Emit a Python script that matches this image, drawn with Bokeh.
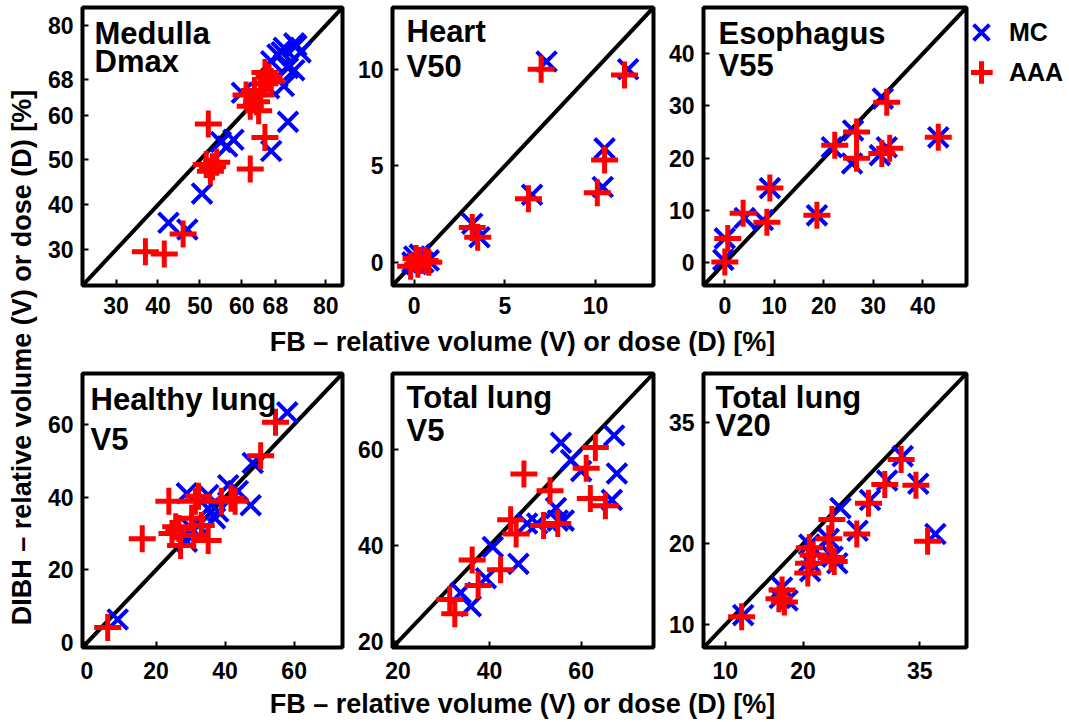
import math
from bokeh.plotting import figure
from bokeh.models import Range1d, FixedTicker, Label, Legend, LegendItem
from bokeh.layouts import row, column
from bokeh.embed import file_html
from bokeh.resources import INLINE

FONT = "Liberation Sans"

# ---------------- data ----------------
medulla_mc_x = [42.5, 47.0, 50.5, 55.0, 56.5, 58.0, 60.0, 67.0, 71.0, 66.5, 68.5, 70.0, 71.0, 72.5, 69.5, 67.0, 72.5, 74.0, 73.0, 68.5, 70.0]
medulla_mc_y = [36.0, 34.5, 42.5, 54.0, 53.0, 54.5, 65.0, 52.0, 58.5, 66.0, 68.5, 66.5, 70.5, 70.0, 74.0, 72.0, 76.0, 74.0, 75.5, 73.5, 75.0]
medulla_aaa_x = [37.0, 41.5, 46.0, 52.0, 51.5, 53.0, 52.5, 54.0, 62.0, 65.5, 61.0, 62.0, 63.5, 64.5, 65.5, 66.5, 63.0, 64.0, 67.0, 65.5]
medulla_aaa_y = [29.5, 29.0, 33.5, 58.0, 49.0, 48.5, 47.5, 49.5, 48.0, 55.0, 64.5, 62.0, 63.0, 64.5, 67.0, 68.5, 65.5, 61.0, 67.5, 69.5]

heart_mc_x = [7.3, 11.8, 10.5, 10.4, 6.5, 3.2, 3.6, 0.0, 0.8, -0.1, 0.3, 0.1, 0.5]
heart_mc_y = [10.4, 10.0, 5.9, 3.9, 3.5, 2.0, 1.3, 0.3, 0.1, 0.0, 0.4, -0.1, 0.0]
heart_aaa_x = [7.0, 11.6, 10.5, 10.1, 6.3, 3.2, 3.5, 0.1, 0.8, -0.2, 0.3, 0.2, 0.6]
heart_aaa_y = [10.0, 9.7, 5.3, 3.6, 3.3, 1.8, 1.3, 0.2, 0.0, -0.2, 0.1, -0.1, 0.1]

eso_mc_x = [31.9, 43.1, 21.6, 25.9, 25.7, 31.3, 32.7, 9.1, 18.6, 4.0, 7.7, 0.0, -0.3]
eso_mc_y = [31.4, 24.0, 22.1, 25.3, 19.0, 20.6, 22.1, 14.3, 9.1, 8.6, 8.2, 4.7, 0.6]
eso_aaa_x = [32.7, 43.1, 22.2, 26.6, 26.6, 31.7, 33.3, 9.1, 18.6, 3.7, 8.5, 0.6, 0.0]
eso_aaa_y = [30.7, 24.0, 22.5, 25.0, 20.0, 20.9, 21.9, 14.3, 9.1, 9.5, 7.8, 4.7, 0.2]

hlung_mc_x = [58.0, 48.0, 8.9, 28.9, 35.1, 40.9, 47.4, 37.1, 35.1, 43.7, 30.3, 32.3, 38.0, 28.9]
hlung_mc_y = [63.3, 49.4, 6.4, 41.1, 40.6, 43.3, 37.8, 34.2, 36.9, 41.7, 31.4, 32.2, 36.1, 27.8]
hlung_aaa_x = [54.6, 50.3, 6.0, 23.7, 16.0, 24.6, 27.1, 31.4, 32.3, 35.1, 41.7, 42.9, 30.3, 25.7, 33.1, 26.6, 30.9, 38.9]
hlung_aaa_y = [60.6, 51.4, 4.2, 38.9, 28.6, 30.0, 26.7, 38.9, 40.3, 28.1, 39.7, 38.9, 34.2, 31.9, 32.2, 31.4, 29.5, 38.9]

tl5_mc_x = [55.6, 67.2, 67.8, 66.7, 57.8, 60.0, 54.5, 56.2, 50.4, 48.2, 46.3, 40.7, 39.2, 33.7, 35.9, 54.9]
tl5_mc_y = [61.4, 62.9, 55.0, 49.5, 57.8, 55.5, 47.8, 45.2, 44.6, 44.6, 36.2, 39.7, 33.2, 30.2, 27.4, 45.2]
tl5_aaa_x = [63.1, 61.1, 47.5, 53.2, 62.0, 65.3, 44.6, 51.8, 54.9, 45.8, 36.2, 42.4, 37.5, 31.3, 32.4]
tl5_aaa_y = [60.4, 56.1, 54.9, 51.4, 49.8, 48.3, 45.4, 44.2, 44.6, 42.4, 37.0, 35.0, 31.7, 28.8, 25.8]

tl20_mc_x = [32.8, 30.8, 34.8, 28.6, 27.0, 37.0, 24.8, 23.3, 20.8, 20.8, 23.8, 24.4, 20.9, 17.3, 17.0, 18.0, 12.3, 21.5]
tl20_mc_y = [30.8, 27.8, 27.4, 25.4, 21.6, 21.2, 24.4, 20.6, 19.9, 17.8, 18.4, 17.6, 16.6, 14.6, 13.3, 13.0, 11.2, 19.0]
tl20_aaa_x = [32.6, 30.5, 34.5, 28.4, 26.9, 36.0, 23.7, 23.3, 20.8, 20.7, 23.6, 24.0, 20.6, 17.3, 16.9, 17.6, 12.1, 21.3]
tl20_aaa_y = [30.4, 27.3, 27.2, 25.0, 21.2, 20.3, 23.0, 20.6, 19.5, 17.6, 18.3, 17.8, 16.4, 14.3, 13.2, 12.8, 11.0, 18.6]

panel_titles = [["Medulla", "Dmax"], ["Heart", "V50"], ["Esophagus", "V55"],
                ["Healthy lung", "V5"], ["Total lung", "V5"], ["Total lung", "V20"]]
panel_ranges = [(22, 84), (-1.2, 13.2), (-4.3, 48.8), (-1.3, 74), (18.8, 75.8), (7.2, 41)]
panel_ticks = [[30, 40, 50, 60, 68, 80], [0, 5, 10], [0, 10, 20, 30, 40],
               [0, 20, 40, 60], [20, 40, 60], [10, 20, 35]]
series_labels = ["MC", "AAA"]
axis_x_label = "FB \u2013 relative volume (V) or dose (D) [%]"
axis_y_label = "DIBH \u2013 relative volume (V) or dose (D) [%]"

# ---------------- styling / layout ----------------
TOP_BT, TOP_FRAME, TOP_BB = 7, 278, 41
BOT_BT, BOT_FRAME, BOT_BB = 17, 274, 42
MC_STYLE = dict(marker="x", size=28, line_color="#0000ff", line_width=4)
AAA_STYLE = dict(marker="cross", size=27, line_color="#ff0000", line_width=5)


def make_panel(idx, mc_x, mc_y, aaa_x, aaa_y, width, bl, br, top_row):
    lo, hi = panel_ranges[idx]
    if top_row:
        bt, fh, bb, standoff = TOP_BT, TOP_FRAME, TOP_BB, 11
    else:
        bt, fh, bb, standoff = BOT_BT, BOT_FRAME, BOT_BB, 14
    p = figure(width=width, height=bt + fh + bb, x_range=Range1d(lo, hi), y_range=Range1d(lo, hi),
               output_backend="svg", toolbar_location=None,
               min_border_left=bl, min_border_right=br, min_border_top=bt, min_border_bottom=bb)
    p.grid.visible = False
    p.outline_line_color = "black"
    p.outline_line_width = 4
    p.outline_line_alpha = 1.0
    p.background_fill_color = "white"
    p.border_fill_color = "white"
    for ax in (p.xaxis[0], p.yaxis[0]):
        ax.ticker = FixedTicker(ticks=panel_ticks[idx])
        ax.axis_line_color = None
        ax.major_tick_in = 6
        ax.major_tick_out = 0
        ax.major_tick_line_width = 2
        ax.minor_tick_line_color = None
        ax.major_label_text_font = FONT
        ax.major_label_text_font_style = "bold"
        ax.major_label_text_font_size = "23px"
        ax.major_label_text_color = "black"
    p.xaxis[0].major_label_standoff = standoff
    p.yaxis[0].major_label_standoff = 9
    # identity line
    p.line(x=[lo, hi], y=[lo, hi], line_color="black", line_width=4)
    p.scatter(mc_x, mc_y, **MC_STYLE)
    p.scatter(aaa_x, aaa_y, **AAA_STYLE)
    return p


title_pos = [(12, 14, 42.5), (14, 12.5, 47.5), (15, 14, 46),
             (8, 14, 54), (14, 12.3, 45.6), (12, 12.3, 40.6)]


def add_title(p, idx, frame_h):
    xoff, y1, y2 = title_pos[idx]
    for txt, yo in zip(panel_titles[idx], (y1, y2)):
        p.add_layout(Label(x=xoff, y=frame_h - yo + 6, x_units="screen", y_units="screen",
                           text=txt, text_baseline="top", text_align="left",
                           text_font=FONT, text_font_style="bold", text_font_size="31px",
                           text_color="black"))


p1 = make_panel(0, medulla_mc_x, medulla_mc_y, medulla_aaa_x, medulla_aaa_y, 314, 44, 10, True)
p2 = make_panel(1, heart_mc_x, heart_mc_y, heart_aaa_x, heart_aaa_y, 311, 40, 10, True)
p3 = make_panel(2, eso_mc_x, eso_mc_y, eso_aaa_x, eso_aaa_y, 308, 40, 5, True)
p4 = make_panel(3, hlung_mc_x, hlung_mc_y, hlung_aaa_x, hlung_aaa_y, 314, 44, 10, False)
p5 = make_panel(4, tl5_mc_x, tl5_mc_y, tl5_aaa_x, tl5_aaa_y, 311, 40, 10, False)
p6 = make_panel(5, tl20_mc_x, tl20_mc_y, tl20_aaa_x, tl20_aaa_y, 398, 40, 95, False)

for i, p in enumerate([p1, p2, p3]):
    add_title(p, i, TOP_FRAME)
for i, p in enumerate([p4, p5, p6]):
    add_title(p, i + 3, BOT_FRAME)


def blank_fig(w, h):
    f = figure(width=w, height=h, x_range=Range1d(0, 1), y_range=Range1d(0, 1),
               output_backend="svg", toolbar_location=None, x_axis_type=None, y_axis_type=None,
               min_border=0, min_border_left=0, min_border_right=0, min_border_top=0,
               min_border_bottom=0)
    f.outline_line_color = None
    f.grid.visible = False
    return f


top_h = TOP_BT + TOP_FRAME + TOP_BB
bot_h = BOT_BT + BOT_FRAME + BOT_BB

# legend panel to the right of the Esophagus plot (hidden series keyed to the legend).
# Its frame shares the row's frame alignment: bottom edge level with the Esophagus frame.
LEG_W = 98
leg = blank_fig(LEG_W, top_h)
r_mc = leg.scatter(eso_mc_x, eso_mc_y, visible=False, **MC_STYLE)
r_aaa = leg.scatter(eso_aaa_x, eso_aaa_y, visible=False, **AAA_STYLE)
GBOX = 56
for label, rend, cy in [(series_labels[0], r_mc, 32), (series_labels[1], r_aaa, 72)]:
    lg = Legend(items=[LegendItem(label=label, renderers=[rend])],
                location=(10 - GBOX / 2, (TOP_BT + TOP_FRAME) - (cy + GBOX / 2)),
                glyph_width=GBOX, glyph_height=GBOX, label_standoff=0,
                padding=0, margin=0, spacing=0,
                border_line_alpha=0, background_fill_alpha=0, inactive_fill_alpha=0,
                label_text_font=FONT, label_text_font_style="bold",
                label_text_font_size="25px", label_text_color="black")
    leg.add_layout(lg, "center")

TOTAL_H = 720
ylab = blank_fig(38, TOTAL_H)
ylab.add_layout(Label(x=21, y=TOTAL_H - 357, x_units="screen", y_units="screen", angle=math.pi / 2,
                      text=axis_y_label, text_align="center", text_baseline="middle",
                      text_font=FONT, text_font_style="bold", text_font_size="27px",
                      text_color="black"))

xl1 = blank_fig(1023, 30)
xl1.add_layout(Label(x=484, y=15, x_units="screen", y_units="screen", text=axis_x_label,
                     text_align="center", text_baseline="middle", text_font=FONT,
                     text_font_style="bold", text_font_size="27px", text_color="black"))
xl2_h = TOTAL_H - top_h - 30 - bot_h
xl2 = blank_fig(1023, xl2_h)
xl2.add_layout(Label(x=484, y=xl2_h - (703 - (top_h + 30 + bot_h)), x_units="screen", y_units="screen",
                     text=axis_x_label,
                     text_align="center", text_baseline="middle", text_font=FONT,
                     text_font_style="bold", text_font_size="27px", text_color="black"))

layout = row(ylab, column(row(p1, p2, p3, leg), xl1, row(p4, p5, p6), xl2))

open("out.html", "w").write(file_html(layout, INLINE))
